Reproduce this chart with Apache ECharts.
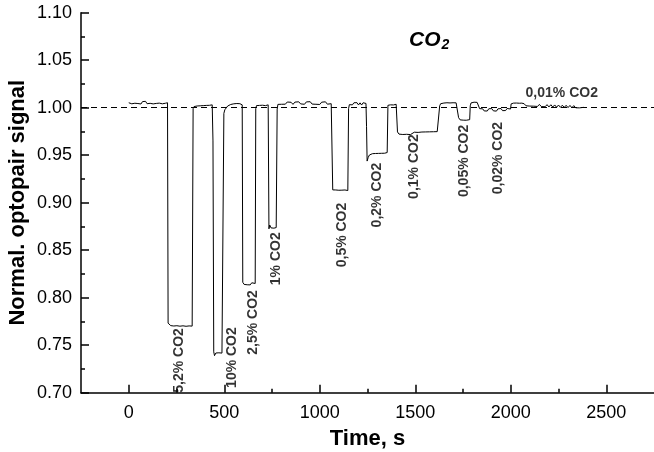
<!DOCTYPE html>
<html>
<head>
<meta charset="utf-8">
<script src="https://cdn.jsdelivr.net/npm/echarts@6/dist/echarts.min.js"></script>
<style>
html, body { margin: 0; padding: 0; background: #fff; }
#main { width: 654px; height: 452px; }
</style>
</head>
<body>
<div id="main"></div>
<script>
// time axis (s) and normalized signal
var timeSec = [
	0, 8, 16, 24, 32, 40, 48, 56, 64, 72, 80, 88, 96, 104, 112, 120, 128, 136, 144, 152, 160, 168, 176, 184, 192, 200, 203,
	206, 212, 220, 228, 236, 244, 252, 260, 268, 276, 284, 292, 300, 308, 316, 324, 332,
	337, 342, 350, 358, 366, 374, 382, 390, 398, 406, 414, 422, 430, 437,
	441, 445, 449, 456, 464, 472, 480, 488, 494,
	498, 503, 510, 518, 526, 534, 542, 550, 558, 566, 574, 582, 590,
	594, 597, 604, 612, 620, 628, 636, 644, 652, 662,
	665, 669, 676, 684, 692, 700, 708, 716, 724, 730,
	734, 738, 745, 752, 760, 768, 772,
	777, 781, 790, 800, 810, 820, 830, 840, 850, 860, 870, 880, 890, 900, 910, 920, 930, 940, 950, 960, 970, 980, 990, 1000, 1010, 1020, 1030, 1040, 1050, 1060,
	1064, 1068, 1076, 1084, 1092, 1100, 1108, 1116, 1124, 1132, 1140, 1147,
	1151, 1155, 1163, 1171, 1179, 1187, 1195, 1203, 1211, 1219, 1227, 1235, 1242,
	1245, 1248, 1254, 1260, 1268, 1276, 1284, 1292, 1300, 1308, 1316, 1324, 1332, 1340, 1348, 1353,
	1357, 1362, 1370, 1378, 1386, 1394, 1400,
	1404, 1407, 1415, 1425, 1435, 1445, 1455, 1465, 1475, 1485, 1495, 1505, 1515, 1525, 1535, 1545, 1555, 1565, 1575, 1585, 1595, 1605, 1615, 1624,
	1628, 1633, 1642, 1650, 1658, 1666, 1674, 1682, 1690, 1698, 1706, 1714, 1720,
	1724, 1727, 1735, 1743, 1751, 1759, 1767, 1775, 1785,
	1788, 1792, 1800, 1808, 1816, 1824, 1833,
	1837, 1845, 1853, 1861, 1869, 1877, 1885, 1893, 1901, 1909, 1917, 1925, 1933, 1941, 1949, 1957, 1965, 1973, 1981, 1990, 1999,
	2002, 2006, 2014, 2022, 2030, 2038, 2046, 2054, 2058,
	2062, 2070, 2080, 2090, 2100, 2110, 2120, 2130, 2140, 2150, 2160, 2170, 2180, 2190, 2200, 2210, 2220, 2230, 2240, 2250,
	2260, 2270, 2280, 2290, 2300, 2310, 2320, 2330, 2340, 2350, 2360, 2370, 2382
];
var signal = [
	1.0052, 1.0066, 1.0041, 1.0060, 1.0047, 1.0068, 1.0044, 1.0059, 1.0039, 1.0064, 1.0049, 1.0067, 1.0042, 1.0061, 1.0046, 1.0065, 1.0040, 1.0058, 1.0045, 1.0066, 1.0048, 1.0062, 1.0041, 1.0060, 1.0047, 1.0063, 1.0052,
	0.7732, 0.7722, 0.7706, 0.7725, 0.7702, 0.7719, 0.7705, 0.7726, 0.7700, 0.7718, 0.7704, 0.7722, 0.7699, 0.7717, 0.7703, 0.7719, 0.7701,
	0.9990, 1.0012, 1.0030, 1.0018, 1.0036, 1.0020, 1.0040, 1.0022, 1.0042, 1.0024, 1.0043, 1.0025, 1.0041, 1.0030,
	0.9650, 0.7430, 0.7390, 0.7418, 0.7398, 0.7420, 0.7400, 0.7417, 0.7402,
	0.9940, 0.9978, 0.9996, 1.0018, 1.0012, 1.0034, 1.0024, 1.0041, 1.0027, 1.0044, 1.0028, 1.0042, 1.0030,
	1.0030, 0.8162, 0.8140, 0.8158, 0.8136, 0.8155, 0.8135, 0.8157, 0.8138, 0.8150,
	0.9990, 1.0022, 1.0041, 1.0024, 1.0045, 1.0026, 1.0043, 1.0022, 1.0042, 1.0030,
	0.8725, 0.8765, 0.8735, 0.8752, 0.8732, 0.8750, 0.8738,
	0.9985, 1.0035, 1.0052, 1.0036, 1.0056, 1.0037, 1.0060, 1.0039, 1.0057, 1.0035, 1.0059, 1.0038, 1.0062, 1.0040, 1.0058, 1.0036, 1.0061, 1.0041, 1.0063, 1.0038, 1.0059, 1.0036, 1.0057, 1.0034, 1.0058, 1.0039, 1.0062, 1.0037, 1.0056, 1.0042,
	1.0040, 0.9135, 0.9118, 0.9134, 0.9114, 0.9131, 0.9112, 0.9132, 0.9115, 0.9134, 0.9113, 0.9128,
	0.9990, 1.0032, 1.0050, 1.0030, 1.0052, 1.0031, 1.0053, 1.0029, 1.0051, 1.0028, 1.0052, 1.0032, 1.0045,
	0.9800, 0.9438, 0.9478, 0.9502, 0.9522, 0.9516, 0.9536, 0.9518, 0.9538, 0.9519, 0.9537, 0.9520, 0.9540, 0.9521, 0.9536, 0.9528,
	1.0025, 1.0046, 1.0030, 1.0050, 1.0029, 1.0048, 1.0036,
	1.0030, 0.9745, 0.9722, 0.9740, 0.9718, 0.9738, 0.9720, 0.9741, 0.9717, 0.9737, 0.9742, 0.9721, 0.9740, 0.9722, 0.9744, 0.9723, 0.9745, 0.9724, 0.9746, 0.9725, 0.9747, 0.9728, 0.9748, 0.9732,
	1.0020, 1.0042, 1.0030, 1.0049, 1.0031, 1.0052, 1.0033, 1.0050, 1.0030, 1.0052, 1.0034, 1.0051, 1.0038,
	1.0035, 0.9895, 0.9872, 0.9890, 0.9869, 0.9888, 0.9868, 0.9887, 0.9874,
	1.0020, 1.0050, 1.0038, 1.0058, 1.0040, 1.0056, 1.0045,
	0.9990, 0.9970, 0.9988, 0.9966, 0.9987, 0.9965, 0.9989, 0.9968, 0.9990, 0.9967, 0.9986, 0.9964, 0.9988, 0.9968, 0.9991, 0.9969, 0.9988, 0.9970, 0.9992, 0.9971, 0.9986,
	1.0040, 1.0060, 1.0048, 1.0066, 1.0049, 1.0065, 1.0047, 1.0063, 1.0048,
	1.0028, 1.0042, 1.0020, 1.0040, 1.0017, 1.0038, 1.0016, 1.0036, 1.0013, 1.0035, 1.0012, 1.0033, 1.0010, 1.0032, 1.0008, 1.0031, 1.0007, 1.0029, 1.0005, 1.0028,
	1.0004, 1.0026, 1.0003, 1.0025, 1.0001, 1.0024, 1.0000, 1.0022, 0.9999, 1.0020, 0.9998, 1.0018, 1.0004
];

var refLevel = 1.0;

// concentration notes (vertical ones), anchored at the text centre
var noteText = ['5,2% CO2', '10% CO2', '2,5% CO2', '1% CO2', '0,5% CO2', '0,2% CO2', '0,1% CO2', '0,05% CO2', '0,02% CO2'];
var noteTime = [264, 541, 651, 771, 1117, 1300, 1493, 1755, 1933];
var noteSignal = [0.734, 0.737, 0.774, 0.841, 0.866, 0.908, 0.938, 0.944, 0.947];
// the last one is written flat
var flatNote = { text: '0,01% CO2', time: 2267, signal: 1.0154 };

var xTicks = [0, 500, 1000, 1500, 2000, 2500];
var xMinorTicks = [250, 750, 1250, 1750, 2250];

var font = 'Liberation Sans, Arial, Helvetica, sans-serif';

var trace = [];
for (var i = 0; i < timeSec.length; i++) {
	trace.push([timeSec[i], signal[i]]);
}
var notes = [];
for (var k = 0; k < noteText.length; k++) {
	notes.push({ value: [noteTime[k], noteSignal[k], noteText[k]] });
}
notes.push({ value: [flatNote.time, flatNote.signal, flatNote.text], label: { rotate: 0 } });

var option = {
	animation: false,
	backgroundColor: '#fff',
	title: {
		text: '{a|CO}{b|2}',
		left: 409,
		top: 29,
		padding: 0,
		textStyle: {
			rich: {
				a: { fontFamily: font, fontSize: 21, fontWeight: 'bold', fontStyle: 'italic', color: '#000' },
				b: { fontFamily: font, fontSize: 14, fontWeight: 'bold', fontStyle: 'italic', color: '#000', padding: [9, 0, 0, 1] }
			}
		}
	},
	grid: {
		left: 81,
		right: 0,
		top: 12.7,
		bottom: 59.3,
		containLabel: false,
		outerBoundsMode: 'none'
	},
	xAxis: [
		{
			type: 'value',
			min: -250,
			max: 2750,
			name: 'Time, s',
			nameLocation: 'middle',
			nameGap: 35,
			nameMoveOverlap: false,
			nameTextStyle: { fontFamily: font, fontSize: 22, fontWeight: 'bold', color: '#000' },
			axisLine: { show: true, onZero: false, lineStyle: { color: '#000', width: 1.5 } },
			axisTick: { show: true, inside: true, length: 8, customValues: xTicks, lineStyle: { color: '#000', width: 1.5 } },
			axisLabel: {
				customValues: xTicks,
				margin: 11,
				fontFamily: font,
				fontSize: 18,
				color: '#000',
				formatter: function(v) { return String(v); }
			},
			splitLine: { show: false }
		},
		{
			type: 'value',
			min: -250,
			max: 2750,
			position: 'bottom',
			axisLine: { show: false, onZero: false },
			axisTick: { show: true, inside: true, length: 4, customValues: xMinorTicks, lineStyle: { color: '#000', width: 1.5 } },
			axisLabel: { show: false },
			splitLine: { show: false }
		}
	],
	yAxis: {
		type: 'value',
		min: 0.7,
		max: 1.1,
		interval: 0.05,
		name: 'Normal. optopair signal',
		nameLocation: 'middle',
		nameGap: 52,
		nameMoveOverlap: false,
		nameTextStyle: { fontFamily: font, fontSize: 22, fontWeight: 'bold', color: '#000' },
		axisLine: { show: true, onZero: false, lineStyle: { color: '#000', width: 1.5 } },
		axisTick: { show: true, inside: true, length: 8, lineStyle: { color: '#000', width: 1.5 } },
		minorTick: { show: true, splitNumber: 2, length: 4, lineStyle: { color: '#000', width: 1.5 } },
		axisLabel: {
			margin: 9,
			fontFamily: font,
			fontSize: 18,
			color: '#000',
			formatter: function(v) { return v.toFixed(2); }
		},
		splitLine: { show: false }
	},
	series: [
		{
			name: 'signal',
			type: 'line',
			data: trace,
			showSymbol: false,
			symbol: 'none',
			lineStyle: { color: '#000', width: 1 },
			markLine: {
				silent: true,
				symbol: ['none', 'none'],
				label: { show: false },
				lineStyle: { color: '#000', width: 1.2, type: [6, 4] },
				data: [{ yAxis: refLevel }]
			}
		},
		{
			name: 'notes',
			type: 'scatter',
			data: notes,
			symbolSize: 1,
			itemStyle: { color: 'transparent' },
			label: {
				show: true,
				position: 'inside',
				rotate: 90,
				fontFamily: font,
				fontSize: 14,
				fontWeight: 'bold',
				color: '#000',
				formatter: function(p) { return p.value[2]; }
			}
		}
	]
};

var myChart = echarts.init(document.getElementById('main'));
myChart.setOption(option);
</script>
</body>
</html>
